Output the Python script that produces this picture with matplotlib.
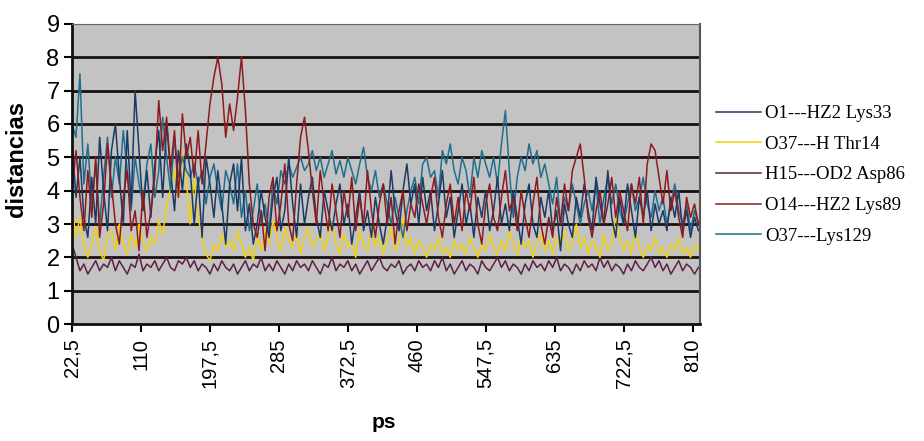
import numpy as np
import matplotlib.pyplot as plt

# tiempo (ps), una muestra cada 5 ps
ps = np.arange(22.5, 820, 5)

lys33 = [5.4, 3.8, 5.0, 3.2, 2.6, 4.4, 3.0, 5.6, 4.0, 2.8,
         5.2, 6.0, 4.4, 3.0, 5.8, 3.6, 7.0, 5.2, 3.4, 4.6,
         3.2, 4.8, 5.8, 3.8, 6.0, 4.6, 3.4, 5.2, 4.0, 5.4,
         4.6, 3.0, 4.4, 2.6, 5.0, 4.2, 3.2, 4.6, 3.6, 2.4,
         4.2, 4.8, 3.4, 5.0, 2.8, 3.6, 2.4, 3.0, 4.0, 3.2,
         2.6, 3.8, 4.4, 2.8, 3.4, 5.0, 3.6, 2.6, 4.2, 3.0,
         3.8, 4.4, 3.2, 2.6, 4.0, 3.4, 2.8, 3.6, 4.2, 3.0,
         3.6, 2.4, 3.2, 4.0, 2.8, 3.4, 2.6, 3.8, 3.0, 2.4,
         3.2, 4.6, 3.4, 2.8, 4.0, 4.8, 3.6, 4.2, 3.0, 4.4,
         3.4, 4.0, 2.8, 3.6, 4.6, 3.2, 3.8, 2.6, 3.4, 4.2,
         3.0, 3.6, 2.6, 3.8, 3.2, 4.0, 2.8, 3.4, 4.4, 3.0,
         3.6, 2.8, 4.0, 3.2, 2.4, 3.6, 4.2, 3.0, 2.6, 3.8,
         3.2, 4.0, 2.8, 3.4, 2.2, 3.6, 3.0, 2.6, 3.8, 3.2,
         4.2, 3.4, 2.8, 4.4, 3.6, 3.0, 4.6, 3.2, 2.6, 3.8,
         3.0, 4.2, 3.4, 2.6, 3.8, 3.2, 4.0, 2.8, 3.6, 3.0,
         3.4, 2.8, 3.8, 3.2, 4.0, 2.8, 3.4, 2.6, 3.2, 2.8]

thr14 = [3.5, 2.6, 3.2, 2.3, 2.0, 2.4, 2.9, 2.2, 1.9, 2.6,
         2.8, 2.2, 3.0, 2.4, 2.1, 2.7, 2.3, 3.0, 2.5, 2.2,
         2.6, 2.4, 3.1, 2.7, 3.5, 4.1, 4.6, 3.8, 5.1, 4.3,
         3.0, 4.4, 3.2, 2.6, 2.1, 1.9, 2.4, 2.2, 2.7, 2.3,
         2.5, 2.2, 2.8, 2.4, 2.0, 2.3, 1.9, 2.6, 2.2, 2.8,
         2.4, 3.1, 2.6, 2.2, 2.9, 2.5, 2.3, 2.7, 2.1, 2.6,
         2.9, 2.3, 2.5, 2.8, 2.2, 2.6, 3.0, 2.4, 2.1, 2.7,
         2.3, 2.5, 2.0, 2.8, 2.4, 2.2, 2.9, 2.3, 2.6, 2.1,
         2.5, 2.9, 2.2, 2.4, 3.2, 2.3, 2.6, 2.1, 2.5, 2.3,
         2.0, 2.4, 2.2, 2.6, 2.1, 2.3, 2.0, 2.5, 2.2, 2.4,
         2.1, 2.6, 2.3, 2.0, 2.4, 2.2, 2.7, 2.3, 2.1, 2.5,
         2.2, 2.8, 2.4, 2.1, 2.6, 2.3, 2.5, 2.0, 2.4, 2.7,
         2.2, 2.5, 2.1, 2.6, 2.3, 2.8, 2.2, 2.4, 3.0, 2.3,
         2.6, 2.1, 2.5, 2.3, 2.0, 2.7, 2.2, 2.4, 3.3, 2.6,
         2.2, 2.5, 2.1, 2.8, 2.3, 2.0, 2.4, 2.2, 2.6, 2.1,
         2.3, 2.0, 2.4, 2.2, 2.6, 2.1, 2.3, 2.0, 2.4, 2.2]

asp86 = [2.4, 2.0, 1.6, 1.8, 1.5, 1.7, 1.9, 1.6, 1.8, 1.7,
         2.0, 1.6, 1.9, 1.7, 1.5, 1.8, 1.7, 2.1, 1.6, 1.8,
         1.7, 1.9, 1.6, 1.8, 2.0, 1.7, 1.6, 1.9, 1.8, 2.0,
         1.7, 1.9, 1.6, 1.8, 1.7, 1.5, 1.8, 1.6, 1.9, 1.7,
         1.6, 1.8, 1.5, 1.7, 1.9, 1.6, 1.8, 1.7, 2.0, 1.6,
         1.8, 1.6, 1.9, 1.7, 1.5, 1.8, 1.6, 1.9, 1.7, 1.8,
         1.6, 1.9, 1.7, 1.5, 1.8, 1.7, 2.0, 1.6, 1.8, 1.7,
         1.9, 1.6, 1.8, 1.5, 1.7, 1.9, 1.6, 1.8, 2.0, 1.7,
         1.6, 1.8, 1.7, 1.9, 1.5, 1.7, 1.8, 1.6, 1.9, 1.7,
         1.8, 1.6, 1.9, 1.7, 2.0, 1.6, 1.8, 1.5, 1.7, 1.9,
         1.6, 1.8, 1.7, 1.5, 1.9, 1.7, 1.6, 1.8, 2.0, 1.7,
         1.9, 1.6, 1.8, 1.7, 1.5, 1.8, 1.6, 1.9, 1.7, 1.8,
         1.6, 1.9, 1.7, 2.0, 1.6, 1.8, 1.7, 1.5, 1.8, 1.6,
         1.9, 1.7, 1.8, 1.6, 2.0, 1.7, 1.9, 1.6, 1.8, 1.7,
         1.5, 1.8, 1.6, 1.9, 1.7, 1.6, 1.8, 2.0, 1.7, 1.9,
         1.6, 1.8, 1.5, 1.7, 1.9, 1.6, 1.8, 1.7, 1.5, 1.7]

lys89 = [4.0, 5.2, 3.8, 2.8, 4.6, 3.2, 5.0, 2.6, 3.6, 5.4,
         4.2, 3.0, 2.4, 3.8, 4.6, 2.8, 3.4, 2.2, 4.0, 2.6,
         3.4, 4.4, 6.7, 5.2, 6.2, 4.6, 5.8, 3.8, 6.3, 5.0,
         5.6, 4.4, 5.8, 4.2, 5.4, 6.6, 7.4, 8.0, 7.2, 5.6,
         6.6, 5.8, 6.8, 8.0, 6.4, 4.2, 3.0, 2.6, 3.4, 2.2,
         3.8, 4.4, 2.8, 3.6, 4.8, 3.0, 2.5, 4.2, 5.6, 6.2,
         5.2, 4.0, 3.0, 4.6, 3.6, 2.8, 4.2, 3.4, 2.6, 4.0,
         3.2, 4.4, 2.8, 3.8, 3.0, 4.6, 3.4, 2.6, 3.6, 4.2,
         3.0, 3.8, 2.4, 3.4, 4.0, 2.8, 3.6, 3.2, 4.2, 3.6,
         3.0, 3.8, 4.4, 3.2, 2.6, 3.6, 4.2, 3.0, 3.8, 2.8,
         4.0, 3.4, 4.4, 3.0, 2.4, 3.6, 4.2, 3.2, 2.8, 3.8,
         4.6, 3.4, 3.8, 2.8, 4.0, 3.2, 2.6, 3.6, 4.4, 3.0,
         2.4, 3.2, 2.6, 3.8, 3.0, 4.2, 3.4, 4.6, 5.0, 5.4,
         4.4, 3.2, 2.6, 3.4, 4.0, 3.0, 3.6, 4.4, 3.2, 4.0,
         3.4, 2.8, 4.2, 3.6, 4.4, 3.0, 4.8, 5.4, 5.2, 4.4,
         3.6, 4.6, 3.4, 4.0, 3.2, 2.6, 3.8, 3.2, 3.6, 3.0]

lys129 = [6.0, 5.6, 7.5, 4.2, 5.4, 3.6, 4.8, 3.0, 4.4, 5.6,
          3.8, 5.0, 4.2, 5.8, 4.6, 3.4, 5.0, 4.2, 3.6, 4.8,
          5.4, 3.8, 4.6, 6.2, 5.0, 4.0, 5.6, 4.4, 5.0, 4.6,
          4.4, 4.8, 4.2, 4.6, 3.6, 4.4, 4.8, 4.0, 3.4, 4.6,
          4.2, 3.6, 4.8, 3.2, 4.0, 2.8, 3.4, 4.2, 3.0, 3.6,
          2.8, 4.2, 3.6, 4.6, 4.2, 4.8, 4.4, 4.7, 5.0, 4.6,
          4.8, 5.2, 4.6, 5.0, 4.4, 4.8, 5.2, 4.5, 4.9, 4.4,
          5.0, 4.6, 4.2, 4.8, 5.3, 4.4, 4.0, 4.6, 3.8, 4.2,
          3.6, 3.0, 3.8, 3.2, 2.6, 3.4, 4.0, 4.4, 3.6, 4.8,
          5.0, 4.4, 4.6, 3.8, 5.2, 4.8, 5.4, 4.6, 4.2, 5.0,
          4.6, 3.8, 5.0, 4.4, 5.2, 4.8, 4.4, 5.0, 4.2, 5.4,
          6.4, 4.6, 3.2, 4.4, 5.0, 4.6, 5.4, 4.8, 5.2, 4.4,
          4.8, 4.2, 3.6, 4.4, 3.0, 3.8, 3.4, 4.2, 3.6, 3.0,
          3.6, 4.0, 3.4, 4.2, 3.0, 3.8, 4.4, 3.6, 4.2, 3.4,
          3.0, 3.6, 4.2, 3.4, 3.8, 4.4, 3.6, 3.2, 4.0, 3.4,
          3.8, 3.0, 3.6, 4.2, 3.4, 3.0, 3.6, 2.8, 3.4, 3.0]

labels = ["O1---HZ2 Lys33", "O37---H Thr14", "H15---OD2 Asp86",
          "O14---HZ2 Lys89", "O37---Lys129"]
colors = ["#1c3a66", "#f2d20a", "#5e1f45", "#8e1a1e", "#1f6f8e"]
xticks = [22.5, 110, 197.5, 285, 372.5, 460, 547.5, 635, 722.5, 810]
xticklabels = ["22,5", "110", "197,5", "285", "372,5", "460", "547,5",
               "635", "722,5", "810"]

fig = plt.figure(figsize=(9.24, 4.41), dpi=100)
ax = fig.add_axes([0.078, 0.265, 0.680, 0.681])
ax.set_facecolor("#c3c3c3")

for yv in range(1, 9):
    ax.axhline(yv, color="#1a1010", lw=2.0, zorder=1)

series = [lys33, thr14, asp86, lys89, lys129]
order = [2, 1, 4, 0, 3]
lines = [None] * 5
for k in order:
    lines[k], = ax.plot(ps, series[k], color=colors[k], lw=1.1, zorder=2)

ax.set_xlim(22.5, 820)
ax.set_ylim(0, 9)
ax.set_yticks(range(10))
ax.set_xticks(xticks)
ax.set_xticklabels(xticklabels, rotation=90, fontsize=14.5,
                   family="Liberation Sans")
ax.tick_params(axis="y", labelsize=17, length=6, width=1.5,
               direction="out", pad=3)
ax.tick_params(axis="x", length=6, width=1.5, direction="out", pad=4)
for lab in ax.get_yticklabels():
    lab.set_family("Liberation Sans")

ax.spines["left"].set_linewidth(2)
ax.spines["left"].set_color("#111111")
ax.spines["bottom"].set_linewidth(2)
ax.spines["bottom"].set_color("#111111")
ax.spines["top"].set_color("#666666")
ax.spines["right"].set_color("#555555")
ax.spines["right"].set_linewidth(1.5)

fig.text(0.018, 0.64, "distancias", fontsize=17, fontweight="bold",
         family="Liberation Sans", rotation=90, ha="center", va="center")
fig.text(0.415, 0.03, "ps", fontsize=15, fontweight="bold",
         family="Liberation Sans", ha="center")

fig.legend(lines, labels, loc="upper left", bbox_to_anchor=(0.757, 0.80),
           frameon=False, prop={"family": "Liberation Serif", "size": 13.5},
           handlelength=2.4, labelspacing=0.72, handletextpad=0.2)

fig.savefig("out.png", dpi=100)
